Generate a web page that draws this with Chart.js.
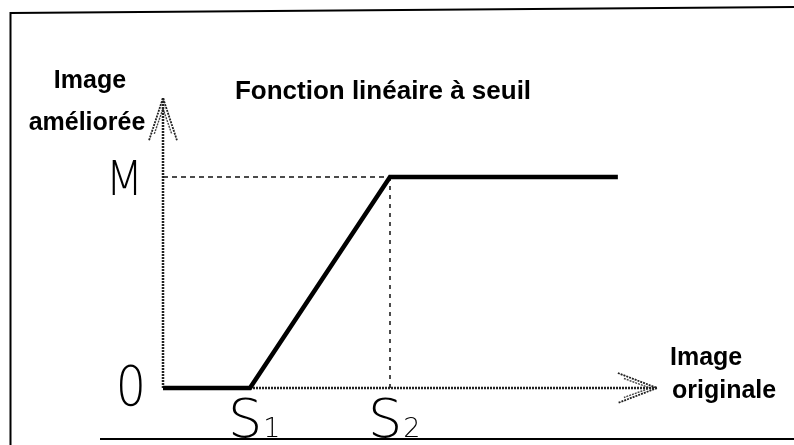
<!DOCTYPE html>
<html>
<head>
<meta charset="utf-8">
<script src="https://cdn.jsdelivr.net/npm/chart.js@4.4.0/dist/chart.umd.min.js"></script>
<style>
html,body{margin:0;padding:0;background:#fff;}
#wrap{width:794px;height:445px;position:relative;}
</style>
</head>
<body>
<div id="wrap"><canvas id="c" width="794" height="445"></canvas></div>
<script>
// ---- data ----
const title = 'Fonction linéaire à seuil';
const yAxisTitle = ['Image', 'améliorée'];
const xAxisTitle = ['Image', 'originale'];
const curveX = [0, 1, 2.61, 5.23];      // 0, S1, S2, end
const curveY = [0, 0, 1, 1];            // 0, 0, M, M
const thresholdX = [1, 2.61];           // S1, S2
const thresholdLabels = [['S', '1'], ['S', '2']];
const levelY = [0, 1];                  // 0, M
const levelLabels = ['0', 'M'];
const xAxisMax = 5.68;
const yAxisMax = 1.374;

const pts = (xs, ys) => xs.map((x, i) => ({x, y: ys[i]}));
const line = (data, opts) => Object.assign({
  data, showLine: true, pointRadius: 0, borderColor: '#000', borderWidth: 2,
  fill: false, clip: false, tension: 0
}, opts);

const S1 = thresholdX[0], S2 = thresholdX[1], M = levelY[1];

const datasets = [
  line(pts(curveX, curveY), {borderWidth: 4.5, borderJoinStyle: 'miter'}),
  line([{x: 0, y: M}, {x: S2, y: M}], {borderWidth: 1.5, borderDash: [5, 4], borderColor: '#111'}),
  line([{x: S2, y: 0}, {x: S2, y: M}], {borderWidth: 1.5, borderDash: [4, 5], borderColor: '#111'}),
  line([{x: 0, y: 0}, {x: 0, y: yAxisMax}], {borderWidth: 2.5, borderDash: [2, 1], borderColor: '#222'}),
  line([{x: 0, y: 0}, {x: xAxisMax, y: 0}], {borderWidth: 2.5, borderDash: [2, 1], borderColor: '#222'}),
  // arrowheads (double chevrons)
  line([{x: -0.16, y: yAxisMax - 0.2}, {x: 0, y: yAxisMax}, {x: 0.16, y: yAxisMax - 0.2}], {borderWidth: 1.8, borderDash: [2, 1], borderColor: '#222'}),
  line([{x: -0.1, y: yAxisMax - 0.17}, {x: 0, y: yAxisMax - 0.05}, {x: 0.1, y: yAxisMax - 0.17}], {borderWidth: 1.4, borderDash: [2, 1], borderColor: '#444'}),
  line([{x: xAxisMax - 0.45, y: 0.071}, {x: xAxisMax, y: 0}, {x: xAxisMax - 0.45, y: -0.071}], {borderWidth: 1.8, borderDash: [2, 1], borderColor: '#222'}),
  line([{x: xAxisMax - 0.38, y: 0.045}, {x: xAxisMax - 0.08, y: 0}, {x: xAxisMax - 0.38, y: -0.045}], {borderWidth: 1.4, borderDash: [2, 1], borderColor: '#444'})
];

const decor = {
  id: 'decor',
  beforeDraw(chart) {
    const ctx = chart.ctx;
    ctx.save();
    ctx.fillStyle = '#fff';
    ctx.fillRect(0, 0, chart.width, chart.height);
    ctx.strokeStyle = '#000';
    ctx.lineWidth = 2;
    ctx.beginPath();
    ctx.moveTo(10, 13); ctx.lineTo(794, 7);
    ctx.moveTo(10.5, 12); ctx.lineTo(10.5, 445);
    ctx.moveTo(100, 439); ctx.lineTo(794, 439);
    ctx.stroke();
    ctx.restore();
  },
  afterDraw(chart) {
    const ctx = chart.ctx;
    const xs = chart.scales.x, ys = chart.scales.y;
    const x0 = xs.getPixelForValue(0), y0 = ys.getPixelForValue(0);
    ctx.save();
    ctx.fillStyle = '#000';
    // title
    ctx.font = 'bold 26px "Liberation Sans", Arial, sans-serif';
    ctx.textAlign = 'center';
    ctx.textBaseline = 'alphabetic';
    ctx.fillText(title, 383, 99, 310);
    // y axis title
    ctx.font = 'bold 25px "Liberation Sans", Arial, sans-serif';
    ctx.fillText(yAxisTitle[0], x0 - 73, 88);
    ctx.fillText(yAxisTitle[1], x0 - 76, 130, 128);
    // x axis title
    ctx.textAlign = 'left';
    ctx.fillText(xAxisTitle[0], xs.getPixelForValue(xAxisMax) + 13, 365);
    ctx.fillText(xAxisTitle[1], xs.getPixelForValue(xAxisMax) + 15, 398, 112);
    // level labels (thin)
    ctx.textAlign = 'right';
    levelY.forEach((v, i) => {
      const py = ys.getPixelForValue(v);
      if (levelLabels[i] === 'M') {
        ctx.font = '200 48px "DejaVu Sans", Roboto, sans-serif';
        ctx.save();
        ctx.translate(x0 - 20, py + 18);
        ctx.scale(0.9, 1);
        ctx.fillText(levelLabels[i], 0, 0);
        ctx.restore();
      } else {
        ctx.font = '200 56px "DejaVu Sans", Roboto, sans-serif';
        ctx.save();
        ctx.translate(x0 - 17, py + 17);
        ctx.scale(0.85, 1);
        ctx.fillText(levelLabels[i], 0, 0);
        ctx.restore();
      }
    });
    // threshold labels
    ctx.textAlign = 'left';
    thresholdX.forEach((v, i) => {
      const px = xs.getPixelForValue(v);
      ctx.font = '200 54px "DejaVu Sans", Roboto, sans-serif';
      ctx.fillText(thresholdLabels[i][0], px - 22, y0 + 49);
      const w = ctx.measureText(thresholdLabels[i][0]).width;
      ctx.font = '300 27px "DejaVu Sans", Roboto, sans-serif';
      ctx.fillText(thresholdLabels[i][1], px - 22 + w + 1, y0 + 49);
    });
    ctx.restore();
  }
};

new Chart(document.getElementById('c'), {
  type: 'scatter',
  data: {datasets},
  options: {
    responsive: false,
    animation: false,
    devicePixelRatio: 1,
    layout: {padding: {left: 163, right: 794 - 657, top: 98, bottom: 57}},
    plugins: {legend: {display: false}, tooltip: {enabled: false}, title: {display: false}},
    scales: {
      x: {type: 'linear', min: 0, max: xAxisMax, display: false},
      y: {type: 'linear', min: 0, max: yAxisMax, display: false}
    }
  },
  plugins: [decor]
});
</script>
</body>
</html>
